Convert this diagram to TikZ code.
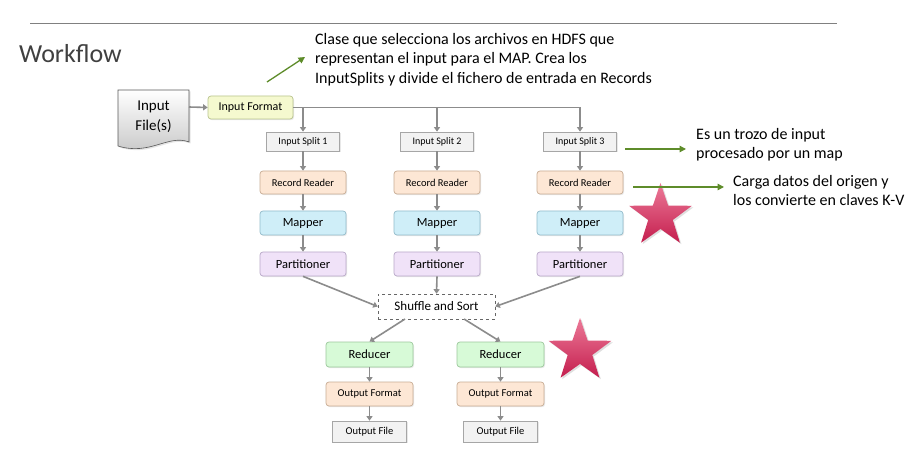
\documentclass[tikz,border=0pt]{standalone}
\usepackage{fontspec}
\setmainfont{Carlito}
\usetikzlibrary{arrows.meta,shapes.geometric,shadows}
\definecolor{arrowgray}{HTML}{8C8C8C}
\definecolor{notegreen}{HTML}{5E8C2A}
\definecolor{titlegray}{HTML}{404040}
\definecolor{fmtfill}{HTML}{F5F9CF}
\definecolor{fmtdraw}{HTML}{B9C48E}
\definecolor{splitfill}{HTML}{F2F2F2}
\definecolor{splitdraw}{HTML}{A6A6A6}
\definecolor{rrfill}{HTML}{FDE7D5}
\definecolor{rrdraw}{HTML}{C9AD95}
\definecolor{mapfill}{HTML}{CFEEF8}
\definecolor{mapdraw}{HTML}{93BCCB}
\definecolor{partfill}{HTML}{F0E2F8}
\definecolor{partdraw}{HTML}{B9A9C9}
\definecolor{redfill}{HTML}{D7FAD7}
\definecolor{reddraw}{HTML}{9DC99D}
\definecolor{startop}{HTML}{EC7A98}
\definecolor{starbot}{HTML}{C41E4E}
\tikzset{
  box/.style={rectangle, minimum width=86pt, minimum height=24pt, inner sep=0pt, line width=0.7pt,
    drop shadow={opacity=0.18, shadow xshift=1pt, shadow yshift=-1.2pt}},
  rbox/.style={box, rounded corners=3pt},
  splitbox/.style={box, fill=splitfill, draw=splitdraw, minimum width=73pt, minimum height=19pt, font=\fontsize{10}{12}\selectfont},
  rrbox/.style={rbox, fill=rrfill, draw=rrdraw, minimum height=23pt, font=\fontsize{10.5}{12}\selectfont},
  mapbox/.style={rbox, fill=mapfill, draw=mapdraw, font=\fontsize{12.5}{14}\selectfont},
  partbox/.style={rbox, fill=partfill, draw=partdraw, font=\fontsize{12.5}{14}\selectfont},
  redbox/.style={rbox, fill=redfill, draw=reddraw, minimum width=87pt, minimum height=25pt, font=\fontsize{12.5}{14}\selectfont},
  ofbox/.style={rrbox, minimum width=87pt, minimum height=24pt},
  filebox/.style={splitbox, minimum width=74pt, minimum height=21pt, font=\fontsize{10.5}{12}\selectfont},
  garrow/.style={draw=arrowgray, line width=1.6pt, -{Triangle[width=6pt,length=4.5pt]}},
  gline/.style={draw=arrowgray, line width=1.6pt},
  narrow/.style={draw=notegreen, line width=1.3pt, -{Triangle[width=6.5pt,length=6.5pt]}},
  note/.style={anchor=north west, align=left, inner sep=0pt, font=\fontsize{16}{19.5}\selectfont},
  bigstar/.style={star, star points=5, star point ratio=2.55, minimum size=66pt, inner sep=0pt,
    top color=startop, bottom color=starbot, draw=none,
    drop shadow={opacity=0.25, shadow xshift=1.5pt, shadow yshift=-1.5pt}}
}
\begin{document}
\begin{tikzpicture}[x=1pt,y=-1pt]
\useasboundingbox (0,0) rectangle (910,462);
\fill[white] (0,0) rectangle (910,462);
% top rule
\draw[color=gray, line width=1pt] (30,24) -- (837,24);
\node[anchor=west, inner sep=0pt, text=titlegray, font=\fontsize{26}{30}\selectfont] (title) at (19,54) {Workflow};

% input file document shape
\draw[draw=gray!70!black, line width=0.6pt, top color=white, bottom color=gray!45,
      drop shadow={opacity=0.2, shadow xshift=1.5pt, shadow yshift=-1.5pt}]
  (118,90) -- (189,90) -- (189,142) .. controls (168,134) and (150,156) .. (118,146) -- cycle;
\node[align=center, inner sep=0pt, font=\fontsize{15}{20}\selectfont] (file) at (153.5,117) {Input\\File(s)};
\coordinate (fileR) at (189,107);

% input format
\node[rbox, fill=fmtfill, draw=fmtdraw, minimum width=85pt, minimum height=23pt, font=\fontsize{12}{14}\selectfont] (fmt) at (250.5,107.5) {Input Format};
\draw[garrow] (fileR) -- (fmt.west);

% columns
\foreach \i/\x in {1/303,2/437,3/580}{
  \node[splitbox] (s\i) at (\x,141.5) {Input Split \i};
  \node[rrbox] (r\i) at (\x,182.5) {Record Reader};
  \node[mapbox] (m\i) at (\x,223) {Mapper};
  \node[partbox] (p\i) at (\x,264) {Partitioner};
  \draw[garrow] (s\i) -- (r\i);
  \draw[garrow] (r\i) -- (m\i);
  \draw[garrow] (m\i) -- (p\i);
}
\draw[gline] (fmt.east) -- (fmt.east -| s3.north);
\foreach \i in {1,2,3}{
  \draw[garrow] (fmt.east -| s\i.north) -- (s\i.north);
}

% shuffle
\node[rectangle, draw=black!60, dashed, fill=white, line width=0.6pt, minimum width=117pt, minimum height=25pt, inner sep=0pt,
  font=\fontsize{13}{15}\selectfont] (sh) at (436.5,306.5) {Shuffle and Sort};
\draw[garrow] (p1.south) -- (sh.west);
\draw[garrow] (p2.south) -- (sh.north);
\draw[garrow] (p3.south) -- (sh.east);

% reducers
\foreach \i/\x in {1/369.5,2/500.5}{
  \node[redbox] (rd\i) at (\x,354.5) {Reducer};
  \node[ofbox] (of\i) at (\x,394) {Output Format};
  \node[filebox] (ofile\i) at (\x,431.5) {Output File};
  \draw[garrow] (rd\i) -- (of\i);
  \draw[garrow] (of\i) -- (ofile\i);
}
\coordinate (shL) at (405,319);
\coordinate (shR) at (464,319);
\draw[garrow] (shL) -- (rd1.north);
\draw[garrow] (shR) -- (rd2.north);

% stars
\node[bigstar] (star1) at (660.5,216) {};
\node[bigstar] (star2) at (580,351) {};

% notes
\node[note] (n1) at (315,33) {Clase que selecciona los archivos en HDFS que\\representan el input para el MAP. Crea los\\InputSplits y divide el fichero de entrada en Records};
\coordinate (a1s) at (267,82);
\coordinate (a1e) at (305,57);
\draw[narrow] (a1s) -- (a1e);

\node[note] (n2) at (696,128) {Es un trozo de input\\procesado por un map};
\coordinate (a2s) at (625,149);
\coordinate (a2e) at (686,149);
\draw[narrow] (a2s) -- (a2e);

\node[note] (n3) at (733,175) {Carga datos del origen y\\los convierte en claves K-V};
\coordinate (a3s) at (633,187);
\coordinate (a3e) at (724,187);
\draw[narrow] (a3s) -- (a3e);
\end{tikzpicture}
\end{document}
